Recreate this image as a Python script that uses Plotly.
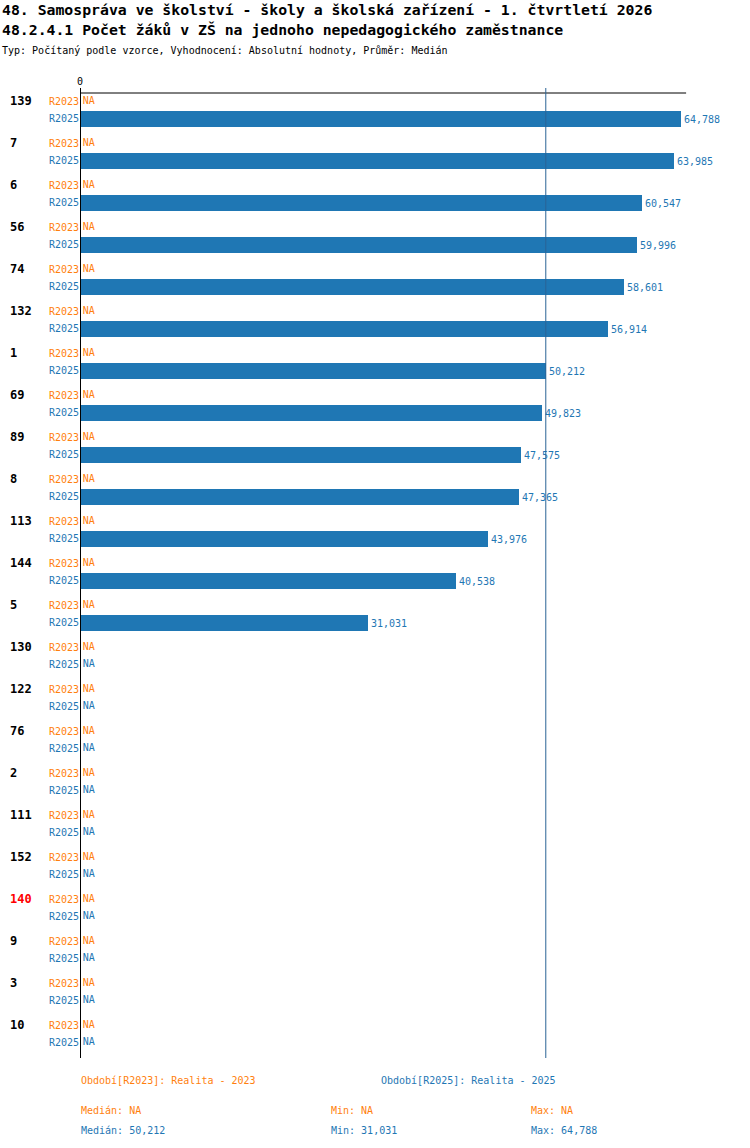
import numpy as np
import plotly.graph_objects as go

# Data
categories = ["139", "7", "6", "56", "74", "132", "1", "69", "89", "8", "113", "144",
              "5", "130", "122", "76", "2", "111", "152", "140", "9", "3", "10"]
r2023 = [None] * 23
r2025 = [64.788, 63.985, 60.547, 59.996, 58.601, 56.914, 50.212, 49.823, 47.575,
         47.365, 43.976, 40.538, 31.031] + [None] * 10
highlight = "140"

ORANGE = "#ff7f0e"
BLUE = "#1f77b4"
FONT = "DejaVu Sans Mono"

W, H = 750, 1148
ML, MR, MT, MB = 80, 10, 88, 1148 - 1058
PW = W - ML - MR
PH = H - MT - MB


def fmt(v):
    return "NA" if v is None else f"{v:,.3f}".replace(".", ",")


def px_x(p):
    return (p - ML) / PW


def px_y(p):
    return (H - MB - p) / PH


# row positions (R2023 on top, R2025 below)
pos23 = [i * 42 for i in range(len(categories))]
pos25 = [i * 42 + 17.5 for i in range(len(categories))]

vals25 = [v for v in r2025 if v is not None]
med25 = float(np.median(vals25))
min25 = min(vals25)
max25 = max(vals25)
xmax = max25 * PW / 601

fig = go.Figure()

fig.add_trace(go.Bar(
    x=[v if v is not None else 0 for v in r2025], y=pos25, orientation="h", width=16,
    marker=dict(color=BLUE, line=dict(width=0)),
    text=[fmt(v) if v is not None else "" for v in r2025],
    textposition="outside", textfont=dict(color=BLUE, size=10, family=FONT),
    constraintext="none", cliponaxis=False, showlegend=False, hoverinfo="skip",
))

# NA labels
na_y23 = [p for p, v in zip(pos23, r2023) if v is None]
na_y25 = [p for p, v in zip(pos25, r2025) if v is None]
fig.add_trace(go.Scatter(x=[0.3] * len(na_y23), y=na_y23, mode="text", text=["NA"] * len(na_y23),
                         textposition="middle right", textfont=dict(color=ORANGE, size=10, family=FONT),
                         showlegend=False, cliponaxis=False, hoverinfo="skip"))
fig.add_trace(go.Scatter(x=[0.3] * len(na_y25), y=na_y25, mode="text", text=["NA"] * len(na_y25),
                         textposition="middle right", textfont=dict(color=BLUE, size=10, family=FONT),
                         showlegend=False, cliponaxis=False, hoverinfo="skip"))

tickvals, ticktext = [], []
for a, b in zip(pos23, pos25):
    tickvals += [a, b]
    ticktext += [f'<span style="color:{ORANGE}">R2023</span>', f'<span style="color:{BLUE}">R2025</span>']

annotations = []
# category labels
for c, p in zip(categories, pos23):
    annotations.append(dict(x=px_x(8), xref="paper", y=p, yref="y", text=f"<b>{c}</b>",
                            xanchor="left", yanchor="middle", showarrow=False,
                            font=dict(size=12, family=FONT, color="red" if c == highlight else "black")))

# titles
annotations += [
    dict(x=px_x(0), y=px_y(9), text="<b>48. Samospráva ve školství - školy a školská zařízení - 1. čtvrtletí 2026</b>",
         font=dict(size=14.8, family=FONT, color="black")),
    dict(x=px_x(0), y=px_y(30), text="<b>48.2.4.1 Počet žáků v ZŠ na jednoho nepedagogického zaměstnance</b>",
         font=dict(size=14.8, family=FONT, color="black")),
    dict(x=px_x(0), y=px_y(51), text="Typ: Počítaný podle vzorce, Vyhodnocení: Absolutní hodnoty, Průměr: Medián",
         font=dict(size=10, family=FONT, color="black")),
]

# footer
annotations += [
    dict(x=px_x(79), y=px_y(1080), text="Období[R2023]: Realita - 2023", font=dict(size=10, family=FONT, color=ORANGE)),
    dict(x=px_x(379), y=px_y(1080), text="Období[R2025]: Realita - 2025", font=dict(size=10, family=FONT, color=BLUE)),
    dict(x=px_x(79), y=px_y(1110), text="Medián: NA", font=dict(size=10, family=FONT, color=ORANGE)),
    dict(x=px_x(329), y=px_y(1110), text="Min: NA", font=dict(size=10, family=FONT, color=ORANGE)),
    dict(x=px_x(529), y=px_y(1110), text="Max: NA", font=dict(size=10, family=FONT, color=ORANGE)),
    dict(x=px_x(79), y=px_y(1130), text=f"Medián: {fmt(med25)}", font=dict(size=10, family=FONT, color=BLUE)),
    dict(x=px_x(329), y=px_y(1130), text=f"Min: {fmt(min25)}", font=dict(size=10, family=FONT, color=BLUE)),
    dict(x=px_x(529), y=px_y(1130), text=f"Max: {fmt(max25)}", font=dict(size=10, family=FONT, color=BLUE)),
]
for a in annotations[len(categories):]:
    a.update(xref="paper", yref="paper", xanchor="left", yanchor="middle", showarrow=False)

shapes = [
    # top line
    dict(type="line", xref="x", yref="y", x0=0, x1=max25 * 1.0085, y0=-8, y1=-8,
         line=dict(color="black", width=1)),
    # median line
    dict(type="line", xref="x", yref="paper", x0=med25, x1=med25, y0=0, y1=1,
         line=dict(color="#2a6496", width=1)),
    # zero line
    dict(type="line", xref="x", yref="paper", x0=0, x1=0, y0=0, y1=1,
         line=dict(color="black", width=2)),
]

fig.update_layout(
    width=W, height=H,
    margin=dict(l=ML, r=MR, t=MT, b=MB, pad=0),
    plot_bgcolor="white", paper_bgcolor="white",
    font=dict(family=FONT, size=10, color="black"),
    annotations=annotations, shapes=shapes,
    xaxis=dict(range=[0, xmax], side="top", tickvals=[0], ticktext=["0"], ticks="",
               showgrid=False, zeroline=False, showline=False, tickfont=dict(size=10, family=FONT)),
    yaxis=dict(range=[957, -13], tickvals=tickvals, ticktext=ticktext, ticks="",
               showgrid=False, zeroline=False, showline=False, tickfont=dict(size=10, family=FONT)),
    bargap=0,
)

# drop the default 8px body margin so the figure sits at the page corner
fig.write_html("out.html", config={"displayModeBar": False},
               post_script="document.body.style.margin='0';")
